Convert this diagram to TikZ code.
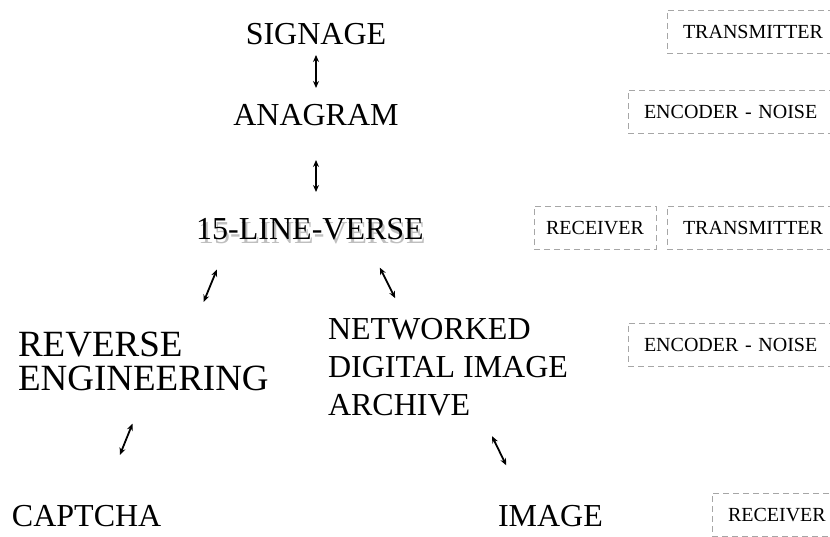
\documentclass[tikz,border=0pt]{standalone}
\usepackage{fontspec}
\setmainfont{Liberation Serif}
\usetikzlibrary{arrows.meta,positioning}

\begin{document}
\begin{tikzpicture}[
    x=1pt, y=-1pt,
    >={Stealth[length=7pt,width=6pt]},
    every node/.style={inner sep=0pt, outer sep=0pt},
    term/.style={font=\fontsize{32}{38}\selectfont, text height=22pt, text depth=0pt},
    stack/.style={anchor=base west, align=left},
    tag/.style={draw=gray!70, dashed, dash pattern=on 6pt off 4pt, line width=0.8pt,
      font=\fontsize{20}{24}\selectfont, text height=13.5pt, text depth=0pt,
      minimum height=43pt, anchor=west},
    open/.style={tag, inner xsep=16pt, align=left, text width=#1},
    link/.style={<->, line width=1.8pt}
  ]

  \useasboundingbox (0,0) rectangle (830,537);
  \clip (0,0) rectangle (830,537);

  % chain of terms (stacks sit on their last line)
  \node [term, anchor=base] (signage) at (316,45) {SIGNAGE};
  \node [term, anchor=base] (anagram) at (316,126) {ANAGRAM};
  \node [term, anchor=base, text=gray!50] (shade) at (312,244) {15-LINE-VERSE};
  \node [term, anchor=base] (verse) at (310,240) {15-LINE-VERSE};
  \node [stack, font=\fontsize{37}{34}\selectfont] (reverse) at (18,390) {REVERSE\\ENGINEERING};
  \node [stack, font=\fontsize{32}{38}\selectfont] (network) at (328,415) {NETWORKED\\DIGITAL IMAGE\\ARCHIVE};
  \node [term, anchor=base west] (captcha) at (12,526) {CAPTCHA};
  \node [term, anchor=base west] (image) at (498,526) {IMAGE};

  \draw[link, shorten <=10pt, shorten >=16pt] (signage.south) -- (signage.south |- anagram.north);
  \draw[link, shorten <=34pt, shorten >=26pt] (anagram.south) -- (anagram.south |- verse.north);
  \draw[link, shorten <=32pt, shorten >=32pt] ([xshift=-81pt]verse.south) -- ([xshift=173.5pt]reverse.north west);
  \draw[link, shorten <=31pt, shorten >=22pt] ([xshift=56pt]verse.south) -- ([xshift=77pt]network.north west);
  \draw[link, shorten <=36pt, shorten >=53pt] ([xshift=128pt]reverse.south west) -- ([xshift=88pt]captcha.north west);
  \draw[link, shorten <=23pt, shorten >=43pt] ([xshift=154pt]network.south west) -- ([xshift=27pt]image.north west);

  % channel roles
  \node [open=160pt] (txtop) at (667,31.5) {TRANSMITTER};
  \node [open=190pt] (enctop) at (628,112) {ENCODER - NOISE};
  \node [tag, minimum width=122pt] (rxmid) at (534,227.5) {RECEIVER};
  \node [open=160pt, right=11pt of rxmid] (txmid) {TRANSMITTER};
  \node [open=190pt] (encmid) at (628,344.5) {ENCODER - NOISE};
  \node [open=110pt] (rxlow) at (712,514.5) {RECEIVER};

\end{tikzpicture}
\end{document}
